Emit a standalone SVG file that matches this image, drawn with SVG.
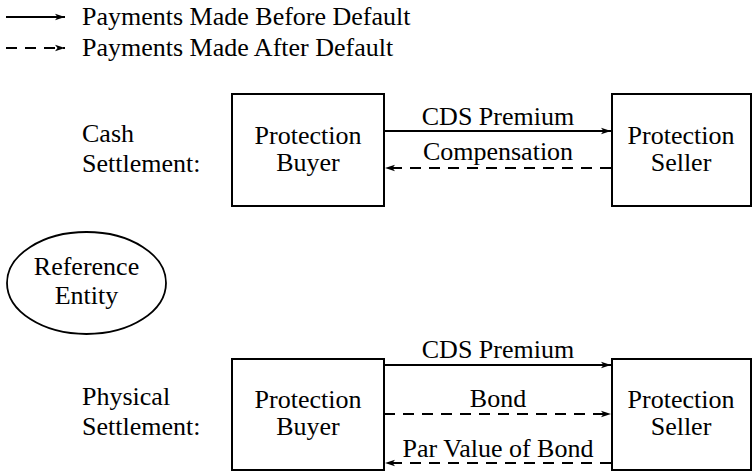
<svg xmlns="http://www.w3.org/2000/svg" width="752" height="472" viewBox="0 0 752 472">
  <style>
    text { font-family: "Liberation Serif", "Times New Roman", serif; font-size: 26px; fill: #000; }
    .mid { text-anchor: middle; }
    .box { fill: #fff; stroke: #000; stroke-width: 2; }
    .flow { fill: none; stroke: #000; stroke-width: 1.8; }
    .dash { stroke-dasharray: 11 8; }
  </style>
  <defs>
    <marker id="arrow" viewBox="0 0 10 8" refX="10" refY="4" markerWidth="10" markerHeight="8" markerUnits="userSpaceOnUse" orient="auto">
      <path d="M0,0.8 L10,4 L0,7.2 L2.5,4 Z" fill="#000"/>
    </marker>
  </defs>
  <rect width="752" height="472" fill="#fff"/>

  <!-- legend -->
  <g id="legend">
    <line class="flow" x1="6" y1="17" x2="65" y2="17" marker-end="url(#arrow)"/>
    <text x="82" y="25">Payments Made Before Default</text>
    <line class="flow dash" x1="6" y1="48" x2="65" y2="48" marker-end="url(#arrow)"/>
    <text x="82" y="56">Payments Made After Default</text>
  </g>

  <!-- section labels -->
  <g id="label-cash">
    <text x="82" y="142">Cash</text>
    <text x="82" y="172">Settlement:</text>
  </g>
  <g id="label-physical">
    <text x="82" y="405">Physical</text>
    <text x="82" y="435">Settlement:</text>
  </g>

  <!-- reference entity -->
  <g id="reference-entity">
    <ellipse cx="86.5" cy="283" rx="79.5" ry="51" fill="#fff" stroke="#000" stroke-width="1.8"/>
    <text class="mid" x="86.5" y="275">Reference</text>
    <text class="mid" x="86.5" y="304">Entity</text>
  </g>

  <!-- cash settlement parties -->
  <g id="cash-buyer">
    <rect class="box" x="232" y="94" width="152" height="112"/>
    <text class="mid" x="308" y="144">Protection</text>
    <text class="mid" x="308" y="171">Buyer</text>
  </g>
  <g id="cash-seller">
    <rect class="box" x="612" y="94" width="139" height="112"/>
    <text class="mid" x="681" y="144">Protection</text>
    <text class="mid" x="681" y="171">Seller</text>
  </g>

  <!-- physical settlement parties -->
  <g id="physical-buyer">
    <rect class="box" x="232" y="359" width="152" height="111"/>
    <text class="mid" x="308" y="408">Protection</text>
    <text class="mid" x="308" y="435">Buyer</text>
  </g>
  <g id="physical-seller">
    <rect class="box" x="612" y="359" width="139" height="111"/>
    <text class="mid" x="681" y="408">Protection</text>
    <text class="mid" x="681" y="435">Seller</text>
  </g>

  <!-- payment flows -->
  <g id="connectors">
    <line class="flow" x1="384" y1="131" x2="611" y2="131" marker-end="url(#arrow)"/>
    <text class="mid" x="498" y="125">CDS Premium</text>
    <line class="flow dash" x1="611" y1="168" x2="385" y2="168" marker-end="url(#arrow)"/>
    <text class="mid" x="498" y="160">Compensation</text>

    <line class="flow" x1="384" y1="365" x2="611" y2="365" marker-end="url(#arrow)"/>
    <text class="mid" x="498" y="358">CDS Premium</text>
    <line class="flow dash" x1="384" y1="414" x2="611" y2="414" marker-end="url(#arrow)"/>
    <text class="mid" x="498" y="407">Bond</text>
    <line class="flow dash" x1="611" y1="463" x2="385" y2="463" marker-end="url(#arrow)"/>
    <text class="mid" x="498" y="457">Par Value of Bond</text>
  </g>
</svg>
